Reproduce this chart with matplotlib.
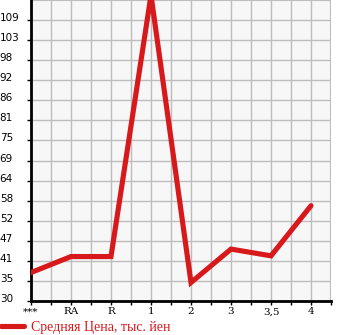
import numpy as np
import matplotlib
matplotlib.use("Agg")
import matplotlib.pyplot as plt
from matplotlib.transforms import ScaledTranslation

# data
categories = ['***', 'RA', 'R', '1', '2', '3', '3,5', '4']
prices = [38.0, 42.5, 42.5, 116.0, 35.2, 44.6, 42.7, 56.8]
ytick_labels = ['30', '35', '41', '47', '52', '58', '64', '69', '75',
                '81', '86', '92', '98', '103', '109']

red = '#d7191c'
W, H = 345, 335
fig = plt.figure(figsize=(W / 100, H / 100), dpi=100)
ax = fig.add_axes([31 / W, 34 / H, 300 / W, 301 / H])
ax.set_facecolor('#f7f7f7')

ymin = 30
step = 5.643
yticks = [ymin + i * step for i in range(len(ytick_labels))]
ax.set_ylim(ymin, ymin + 15 * step)
ax.set_xlim(0, len(categories) - 0.5)

x = np.arange(len(categories))
ax.plot(x, prices, color=red, linewidth=3.7, solid_capstyle='round',
        solid_joinstyle='miter', label='Средняя Цена, тыс. йен', zorder=3)

# grid
ax.set_xticks(x)
ax.set_xticks(np.arange(0.5, len(categories), 1.0), minor=True)
ax.set_xticklabels(categories)
ax.set_yticks(yticks)
ax.set_yticklabels(ytick_labels)
ax.grid(True, which='both', color='#bdbdbd', linewidth=1.0)
ax.axhline(ymin + 15 * step, color='#bdbdbd', linewidth=1.5)
ax.axvline(len(categories) - 0.5, color='#bdbdbd', linewidth=1.5)
ax.set_axisbelow(True)

for s in ['top', 'right']:
    ax.spines[s].set_visible(False)
for s in ['left', 'bottom']:
    ax.spines[s].set_linewidth(2)
    ax.spines[s].set_color('black')

ax.tick_params(axis='y', length=3, width=1, pad=19.5, labelsize=7.5)
ax.tick_params(axis='x', which='both', length=3, width=1, pad=1.5, labelsize=7.5,
               direction='out')
for lab in ax.get_yticklabels():
    lab.set_horizontalalignment('left')
    lab.set_transform(lab.get_transform() + ScaledTranslation(0, 3 / 100, fig.dpi_scale_trans))
for lab in ax.get_xticklabels():
    lab.set_family('DejaVu Serif')

fig.legend(loc='lower left', bbox_to_anchor=(0, 0), frameon=False,
           borderpad=0.1, borderaxespad=0, handlelength=1.6, handletextpad=0.55,
           labelcolor=red, prop={'family': 'Liberation Serif', 'size': 10})

plt.savefig('out.png', dpi=100)
